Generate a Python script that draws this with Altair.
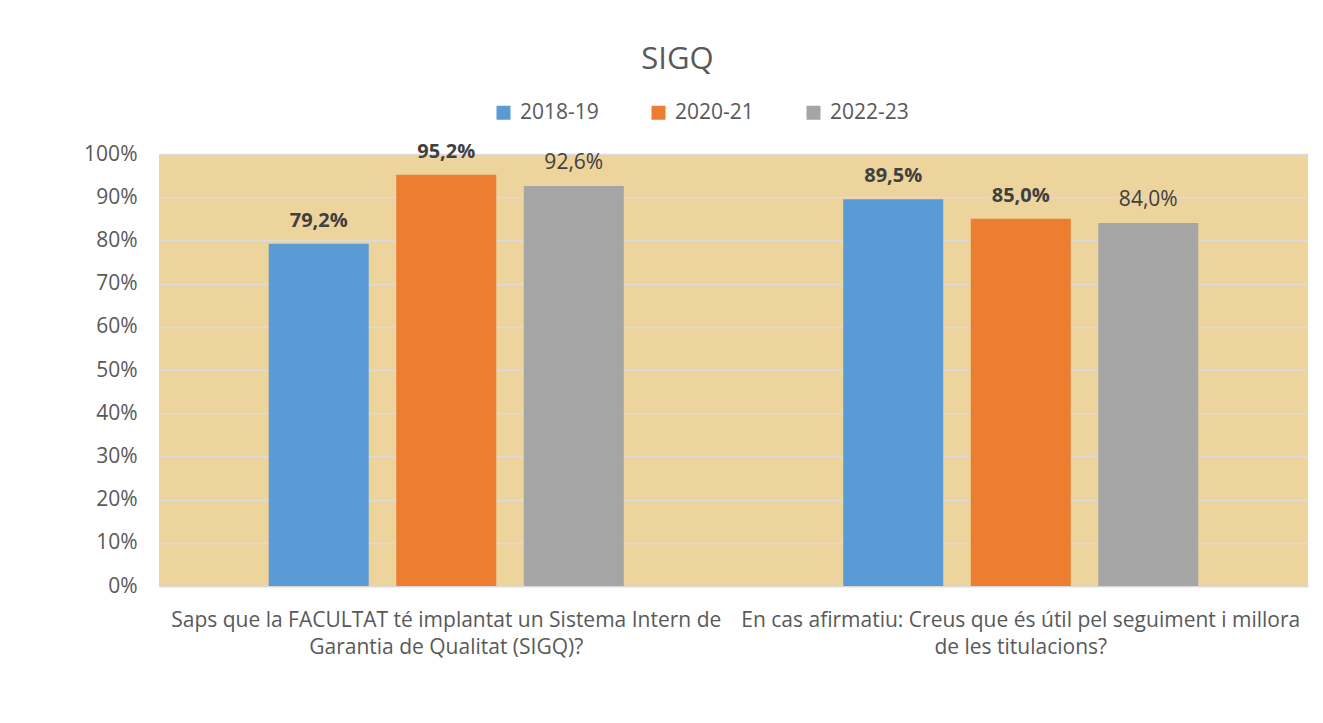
import altair as alt
import pandas as pd

questions = [
    "Saps que la FACULTAT té implantat un Sistema Intern de\nGarantia de Qualitat (SIGQ)?",
    "En cas afirmatiu: Creus que és útil pel seguiment i millora\nde les titulacions?",
]
series = ["2018-19", "2020-21", "2022-23"]
colors = ["#5B9BD5", "#ED7D31", "#A5A5A5"]
values_2018_19 = [0.792, 0.895]
values_2020_21 = [0.952, 0.850]
values_2022_23 = [0.926, 0.840]

rows = []
for s, vals in zip(series, [values_2018_19, values_2020_21, values_2022_23]):
    for q, v in zip(questions, vals):
        rows.append({"q": q, "s": s, "v": v,
                     "lab": f"{v*100:.1f}%".replace(".", ",")})
df = pd.DataFrame(rows)

FONT = "Open Sans"
GREY = "#595959"

x_enc = alt.X("q:N", sort=questions, title=None,
              scale=alt.Scale(paddingInner=0.382, paddingOuter=0.191),
              axis=alt.Axis(labelAngle=0, labelExpr="split(datum.label, '\\n')",
                            labelLimit=1000, labelFontSize=21, labelFont=FONT,
                            labelColor=GREY, labelPadding=23, labelLineHeight=27,
                            labelBaseline="top",
                            domain=True, domainColor="#D9D9D9", domainWidth=1.5,
                            ticks=False))
xo_enc = alt.XOffset("s:N", sort=series,
                     scale=alt.Scale(paddingInner=0.216, paddingOuter=0))
y_enc = alt.Y("v:Q", title=None,
              scale=alt.Scale(domain=[0, 1], nice=False),
              axis=alt.Axis(format=".0%", values=[i / 10 for i in range(11)],
                            labelFontSize=21, labelFont=FONT, labelColor=GREY,
                            labelPadding=22, domain=False, ticks=False,
                            gridColor="#DCDCDC", gridWidth=1.5))

base = alt.Chart(df)

bars = base.mark_bar().encode(
    x=x_enc, xOffset=xo_enc, y=y_enc,
    color=alt.Color("s:N", sort=series, title=None,
                    scale=alt.Scale(domain=series, range=colors),
                    legend=alt.Legend(orient="none", direction="horizontal",
                                      legendX=334, legendY=-52,
                                      symbolType="square", symbolSize=196,
                                      symbolStrokeWidth=0, labelFontSize=21,
                                      labelFont=FONT, labelColor=GREY,
                                      labelOffset=6, columnPadding=49)),
)

bold_text = base.transform_filter(alt.datum.s != "2022-23").mark_text(
    baseline="bottom", dy=-13, fontSize=20, font=FONT, fontWeight="bold",
    color="#404040").encode(x=alt.X("q:N", sort=questions), xOffset=alt.XOffset("s:N", sort=series),
                            y="v:Q", text="lab:N")
norm_text = base.transform_filter(alt.datum.s == "2022-23").mark_text(
    baseline="bottom", dy=-13, fontSize=21, font=FONT,
    color="#404040").encode(x=alt.X("q:N", sort=questions), xOffset=alt.XOffset("s:N", sort=series),
                            y="v:Q", text="lab:N")

chart = alt.layer(bars, bold_text, norm_text).properties(
    width=1149, height=432,
    autosize=alt.AutoSizeParams(type="none"),
    padding={"left": 151, "top": 146, "right": 7, "bottom": 129},
    background="white",
    title=alt.TitleParams("SIGQ", fontSize=31, font=FONT, fontWeight="normal",
                          color=GREY, dx=-56, offset=26, anchor="middle"),
).configure_view(fill="#EDD39C", strokeWidth=0)

chart.save("out.html", embed_options={"renderer": "svg", "actions": False})
